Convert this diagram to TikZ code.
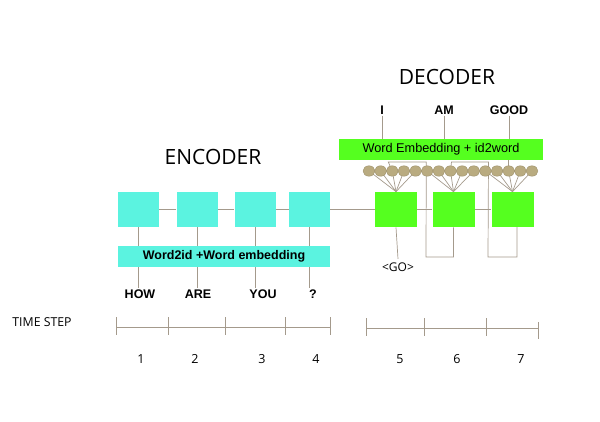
\documentclass[tikz,border=0pt]{standalone}
\usepackage{fontspec}
\setmainfont{Open Sans}
\newfontfamily\arialfont{Liberation Sans}
\usetikzlibrary{shapes.geometric}
\definecolor{enccyan}{HTML}{5BF3E0}
\definecolor{decgreen}{HTML}{55FF1F}
\definecolor{beadtan}{HTML}{B9AB80}
\definecolor{wire}{HTML}{A49A8C}
\tikzset{
  encbox/.style={fill=enccyan,minimum width=41pt,minimum height=35pt,inner sep=0pt},
  decbox/.style={fill=decgreen,minimum width=42pt,minimum height=35pt,inner sep=0pt},
  bar/.style={minimum height=21pt,inner sep=0pt},
  bead/.style={ellipse,fill=beadtan,draw=beadtan!85!black,line width=0.4pt,minimum width=12pt,minimum height=10.5pt,inner sep=0pt},
  word/.style={font=\arialfont\bfseries\fontsize{12.5}{12.5}\selectfont,inner sep=1pt},
  title/.style={font=\fontsize{21}{21}\selectfont},
  num/.style={font=\fontsize{12.5}{12.5}\selectfont}
}
\begin{document}
\begin{tikzpicture}[x=1pt,y=-1pt,wire,line width=0.7pt]
        \useasboundingbox (0,0) rectangle (600,422);
        \node[title,black] (enc) at (213,157) {ENCODER};
        \node[title,black] (dec) at (447,77) {DECODER};
        % encoder
        \node[encbox] (enc1) at (138.5,209.5) {};
        \node[encbox] (enc2) at (197,209.5) {};
        \node[encbox] (enc3) at (255,209.5) {};
        \node[encbox] (enc4) at (309.5,209.5) {};
        \node[bar,fill=enccyan,minimum width=212pt,text=black,font=\arialfont\bfseries\fontsize{12.5}{12.5}\selectfont] (encbar) at (224,256.5) {Word2id +Word embedding};
        \node[word,black] (how) at (140,294) {HOW};
        \node[word,black] (are) at (198,294) {ARE};
        \node[word,black] (you) at (263,294) {YOU};
        \node[word,black] (qm) at (313,294) {?};
        \draw (enc1.east) -- (enc2.west);
        \draw (enc2.east) -- (enc3.west);
        \draw (enc3.east) -- (enc4.west);
        \foreach \b/\w in {enc1/how,enc2/are,enc3/you,enc4/qm} {
          \draw (\b.south) -- (\b.south |- encbar.north);
          \draw (\b.south |- encbar.south) -- (\b.south |- \w.north);
        }
        % decoder
        \node[decbox] (dec1) at (396,209.5) {};
        \node[decbox] (dec2) at (453.5,209.5) {};
        \node[decbox] (dec3) at (512.5,209.5) {};
        \node[bar,fill=decgreen,minimum width=204pt,text=black,font=\arialfont\fontsize{12.7}{12.7}\selectfont] (decbar) at (441,149.5) {Word Embedding + id2word};
        \node[word,black] (wi) at (382,110) {I};
        \node[word,black] (wam) at (444,110) {AM};
        \node[word,black] (wgood) at (509,110) {GOOD};
        \node[black,font=\fontsize{12}{12}\selectfont] (go) at (398,267) {<GO>};
        \draw (enc4.east) -- (dec1.west);
        \draw (dec1.east) -- (dec2.west);
        \draw (dec2.east) -- (dec3.west);
        \foreach \w in {wi,wam,wgood}
          \draw (\w.south) -- (\w.south |- decbar.north);
        \draw (dec1.south) -- (go.north);
        \foreach \i in {1,...,15}
          \coordinate (p\i) at ({369+11.64*(\i-1)},171);
        \foreach \i in {1,...,5} \draw (p\i) -- (dec1.north);
        \foreach \i in {6,...,10} \draw (p\i) -- (dec2.north);
        \foreach \i in {11,...,15} \draw (p\i) -- (dec3.north);
        \draw (p3) -- ++(-4,-9) -- ++(38,0) -- (426,257) -- (dec2.south |- 0,257) -- (dec2.south);
        \draw (p8) -- ++(1,-9) -- ++(37,0) -- (488,257) -- (517,257) -- (517,227);
        \draw (decbar.south -| p13) -- (p13);
        \foreach \i in {1,...,15}
          \node[bead] (b\i) at (p\i) {};
        % time steps
        \node[black,font=\fontsize{12.3}{12.3}\selectfont] (ts) at (42,322) {TIME STEP};
        \draw (116,327) -- (330,327);
        \foreach \x in {116,168,225,285,330}
          \draw (\x,317) -- (\x,335);
        \draw (366,328) -- (538,328);
        \foreach \x in {366,424,486}
          \draw (\x,318) -- (\x,336);
        \draw (538,322) -- (538,339);
        \foreach \n/\x in {1/141,2/195,3/262,4/316,5/400,6/457,7/521}
          \node[num,black] (n\n) at (\x,359) {\n};
\end{tikzpicture}
\end{document}
